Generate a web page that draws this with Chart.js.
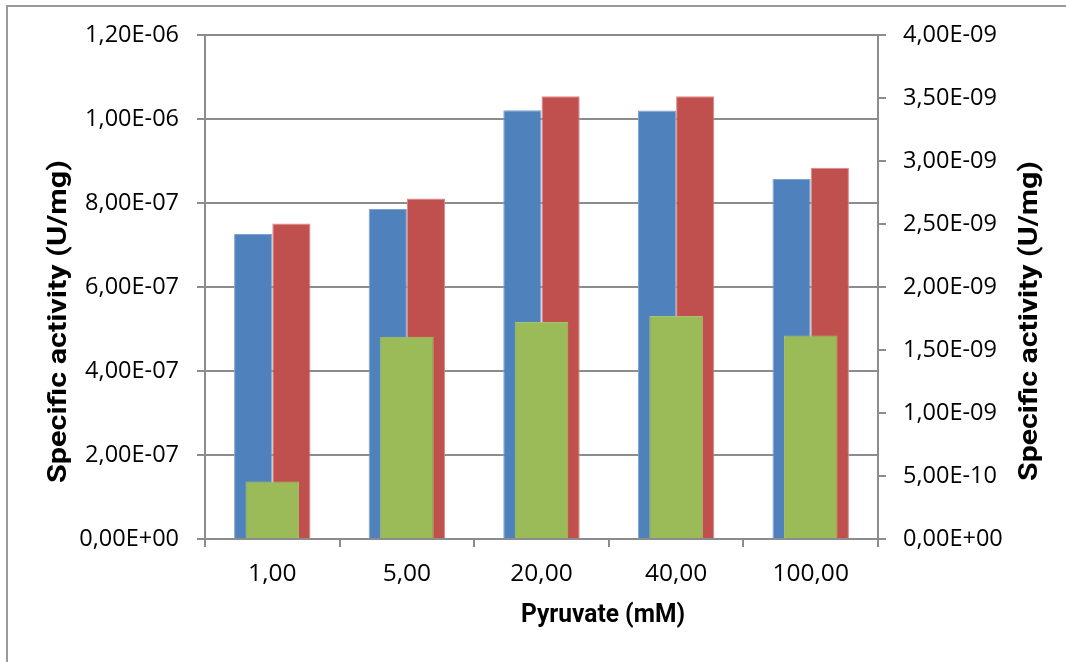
<!DOCTYPE html>
<html>
<head>
<meta charset="utf-8">
<script src="https://cdn.jsdelivr.net/npm/chart.js@4/dist/chart.umd.min.js"></script>
<style>
  html, body { margin: 0; padding: 0; background: #ffffff; overflow: hidden; }
  #wrap { position: relative; width: 1066px; height: 662px; }
</style>
</head>
<body>
<div id="wrap"><canvas id="c" width="1066" height="662"></canvas></div>
<script>
// Pyruvate concentrations (mM)
const categories = ['1,00', '5,00', '20,00', '40,00', '100,00'];

// Specific activity, left axis (U/mg)
const seriesBlue = [7.26e-7, 7.86e-7, 1.021e-6, 1.020e-6, 8.57e-7];
const seriesRed  = [7.51e-7, 8.11e-7, 1.054e-6, 1.054e-6, 8.84e-7];

// Specific activity, right axis (U/mg)
const seriesGreen = [4.57e-10, 1.606e-9, 1.722e-9, 1.770e-9, 1.616e-9];

// Axis tick labels
const leftTickLabels  = ['0,00E+00', '2,00E-07', '4,00E-07', '6,00E-07', '8,00E-07', '1,00E-06', '1,20E-06'];
const rightTickLabels = ['0,00E+00', '5,00E-10', '1,00E-09', '1,50E-09', '2,00E-09', '2,50E-09', '3,00E-09', '3,50E-09', '4,00E-09'];

const xTitle = 'Pyruvate (mM)';
const yTitle = 'Specific activity (U/mg)';

const toNum = s => Number(s.replace(',', '.'));
const leftTickValues = leftTickLabels.map(toNum);
const rightTickValues = rightTickLabels.map(toNum);

const axisGray = '#8c8c8c';
const tickFont = { family: "'Open Sans'", size: 23.5 };
const catFont = { family: "'Open Sans'", size: 24.5 };

// White background and the outer frame
const framePlugin = {
  id: 'frame',
  beforeDraw(chart) {
    const ctx = chart.ctx;
    ctx.save();
    ctx.fillStyle = '#ffffff';
    ctx.fillRect(0, 0, chart.width, chart.height);
    ctx.strokeStyle = '#9a9a9a';
    ctx.lineWidth = 2;
    ctx.beginPath();
    ctx.moveTo(7, chart.height + 5);
    ctx.lineTo(7, 6);
    ctx.lineTo(chart.width + 5, 6);
    ctx.stroke();
    ctx.restore();
  }
};

// Axis titles, each fitted to its length
function drawFitted(ctx, text, x, y, rot, length, font) {
  ctx.save();
  ctx.font = font;
  const w = ctx.measureText(text).width;
  ctx.translate(x, y);
  ctx.rotate(rot);
  ctx.scale(length / w, 1);
  ctx.textAlign = 'center';
  ctx.textBaseline = 'alphabetic';
  ctx.fillStyle = '#000000';
  ctx.fillText(text, 0, 0);
  ctx.restore();
}

const titlePlugin = {
  id: 'axisTitles',
  afterDraw(chart) {
    const ctx = chart.ctx;
    const font = 'bold 25px Roboto';
    drawFitted(ctx, xTitle, 603, 622, 0, 164, font);
    drawFitted(ctx, yTitle, 66, 321.5, -Math.PI / 2, 323, font);
    drawFitted(ctx, yTitle, 1037, 321, -Math.PI / 2, 320, font);
  }
};

new Chart(document.getElementById('c'), {
  type: 'bar',
  data: {
    labels: categories,
    datasets: [
      {
        label: 'Serie 1',
        data: seriesBlue,
        yAxisID: 'y',
        backgroundColor: '#4F81BD',
        borderColor: '#7fa2d2',
        borderWidth: 1,
        categoryPercentage: 0.568,
        barPercentage: 1
      },
      {
        label: 'Serie 2',
        data: seriesRed,
        yAxisID: 'y',
        backgroundColor: '#C0504D',
        borderColor: '#dc8886',
        borderWidth: 1,
        categoryPercentage: 0.568,
        barPercentage: 1
      },
      {
        label: 'Serie 3',
        data: seriesGreen,
        yAxisID: 'y1',
        grouped: false,
        order: -1,
        backgroundColor: '#9BBB59',
        borderColor: '#a9c46f',
        borderWidth: 1,
        categoryPercentage: 1,
        barPercentage: 0.398
      }
    ]
  },
  options: {
    responsive: false,
    devicePixelRatio: 1,
    animation: false,
    layout: { padding: { top: 35, left: 0, right: 0, bottom: 0 } },
    plugins: {
      legend: { display: false },
      tooltip: { enabled: false },
      title: { display: false }
    },
    scales: {
      x: {
        type: 'category',
        offset: true,
        grid: {
          offset: true,
          drawOnChartArea: false,
          drawTicks: true,
          tickLength: 8,
          color: axisGray,
          lineWidth: 2
        },
        border: { display: true, color: axisGray, width: 2 },
        ticks: { font: catFont, color: '#000000', padding: 12, maxRotation: 0, autoSkip: false },
        afterFit(scale) { scale.height = 123; }
      },
      y: {
        position: 'left',
        min: 0,
        max: leftTickValues[leftTickValues.length - 1],
        grid: { color: axisGray, lineWidth: 2, tickLength: 8, drawTicks: true },
        border: { display: true, color: axisGray, width: 2 },
        afterBuildTicks(scale) { scale.ticks = leftTickValues.map(v => ({ value: v })); },
        ticks: {
          font: tickFont,
          color: '#000000',
          padding: 18,
          callback: (v, i) => leftTickLabels[i]
        },
        afterFit(scale) { scale.width = 205; }
      },
      y1: {
        position: 'right',
        min: 0,
        max: rightTickValues[rightTickValues.length - 1],
        grid: { drawOnChartArea: false, color: axisGray, lineWidth: 2, tickLength: 8, drawTicks: true },
        border: { display: true, color: axisGray, width: 2 },
        afterBuildTicks(scale) { scale.ticks = rightTickValues.map(v => ({ value: v })); },
        ticks: {
          font: tickFont,
          color: '#000000',
          padding: 17,
          callback: (v, i) => rightTickLabels[i]
        },
        afterFit(scale) { scale.width = 188; }
      }
    }
  },
  plugins: [framePlugin, titlePlugin]
});
</script>
</body>
</html>
